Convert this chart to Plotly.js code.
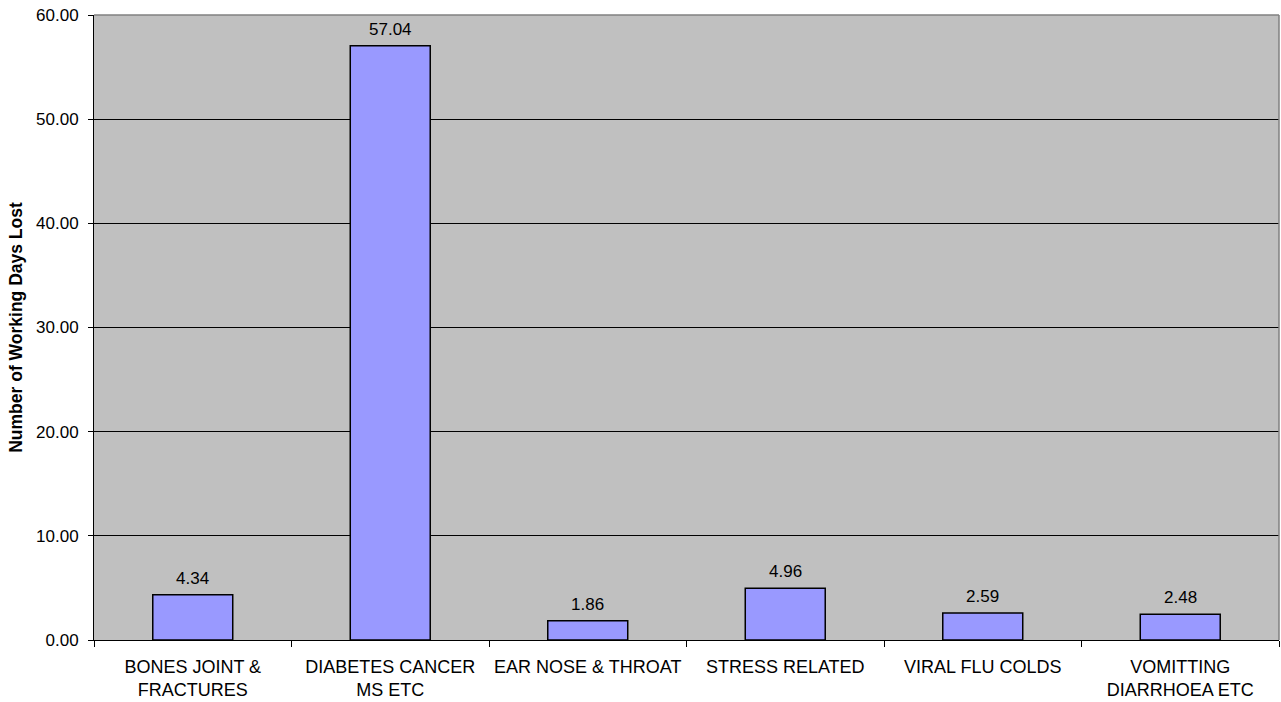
<!DOCTYPE html>
<html>
<head>
<meta charset="utf-8">
<script src="https://cdn.plot.ly/plotly-3.0.1.min.js"></script>
<style>html,body{margin:0;padding:0;background:#fff;}#chart{width:1281px;height:702px;}</style>
</head>
<body>
<div id="chart"></div>
<script>
const categories = ["BONES JOINT &<br>FRACTURES", "DIABETES CANCER<br>MS ETC", "EAR NOSE & THROAT", "STRESS RELATED", "VIRAL FLU COLDS", "VOMITTING<br>DIARRHOEA ETC"];
const daysLost = [4.34, 57.04, 1.86, 4.96, 2.59, 2.48];
const yTitle = "Number of Working Days Lost";

const fam = "Liberation Sans, Arial, sans-serif";
const font = {family: fam, size: 17, color: "#000"};

const trace = {
  type: "bar",
  x: categories,
  y: daysLost,
  marker: {color: "#9999FF", line: {color: "#000", width: 1.5}},
  hoverinfo: "x+y"
};

const labels = categories.map((c, i) => ({
  x: c, y: daysLost[i], xref: "x", yref: "y",
  text: daysLost[i].toFixed(2),
  showarrow: false, yanchor: "bottom", yshift: 5,
  font: font
}));

const layout = {
  width: 1281, height: 702,
  margin: {l: 94, r: 2, t: 15, b: 62},
  paper_bgcolor: "#fff",
  plot_bgcolor: "#C0C0C0",
  font: font,
  bargap: 0.595,
  showlegend: false,
  xaxis: {
    type: "category",
    showline: true, linecolor: "#000", linewidth: 1,
    ticks: "outside", tickson: "boundaries", ticklen: 6, tickcolor: "#000",
    showgrid: false, zeroline: false,
    tickfont: {family: fam, size: 18, color: "#000"},
    ticklabelstandoff: 10,
    automargin: false
  },
  yaxis: {
    range: [0, 60], dtick: 10, tick0: 0,
    tickformat: ".2f",
    showline: true, linecolor: "#000", linewidth: 1,
    ticks: "outside", ticklen: 5, tickcolor: "#000",
    showgrid: true, gridcolor: "#000", gridwidth: 1,
    zeroline: false,
    tickfont: font,
    ticklabelstandoff: 6,
    title: {text: "<b>" + yTitle + "</b>", font: {family: fam, size: 17.5, color: "#000"}, standoff: 8},
    automargin: false
  },
  annotations: labels,
  shapes: [
    {type: "line", xref: "paper", yref: "paper", x0: 0, x1: 1, y0: 1, y1: 1, line: {color: "#808080", width: 1.5}, layer: "above"},
    {type: "line", xref: "paper", yref: "paper", x0: 1, x1: 1, y0: 0, y1: 1, line: {color: "#808080", width: 1.5}, layer: "above"}
  ]
};

Plotly.newPlot("chart", [trace], layout, {displayModeBar: false, staticPlot: true});
</script>
</body>
</html>
